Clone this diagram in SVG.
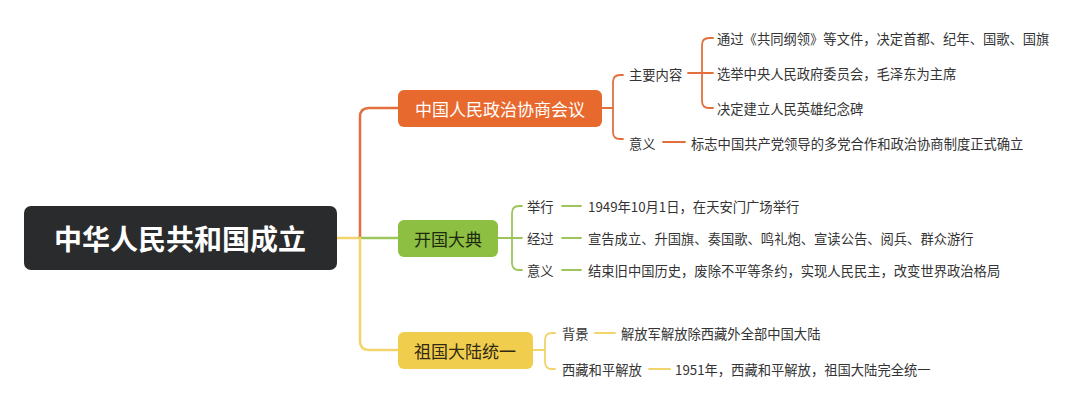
<svg xmlns="http://www.w3.org/2000/svg" width="1080" height="407" viewBox="0 0 1080 407">
<style>
text{font-family:"Noto Sans CJK SC","Noto Sans",sans-serif;dominant-baseline:central}
.leaf{font-size:13.3px;fill:#333}
.mid{font-size:17px}
.c{fill:none;stroke-linecap:round;stroke-linejoin:round}
.o{stroke:#e3703c}
.g{stroke:#9cc55a}
.y{stroke:#f2d46c}
.t{stroke-width:2.5}
.s{stroke-width:1.8}
</style>
<rect width="1080" height="407" fill="#ffffff"/>
<g id="connectors">
<path class="c y t" d="M337 238 H360"/>
<path class="c o t" d="M360 238 V117 Q360 108 369 108 H398"/>
<path class="c g t" d="M360 238 H398"/>
<path class="c y t" d="M360 238 V341 Q360 350 369 350 H398"/>
<path class="c o s" d="M602 108 H613 M623 75 H620 Q613 75 613 82 V132 Q613 139 620 139 H623"/>
<path class="c o s" d="M688 73 H702 M713 38 H709 Q702 38 702 45 V101 Q702 108 709 108 H713 M702 73 H713"/>
<path class="c o s" d="M663 142 H685"/>
<path class="c g s" d="M498 238 H512 M522 206 H519 Q512 206 512 213 V263 Q512 270 519 270 H522 M512 238 H522"/>
<path class="c g s" d="M562 206 H581 M562 238 H581 M562 270 H581"/>
<path class="c y s" d="M533 350 H545 M555 333 H552 Q545 333 545 340 V362 Q545 369 552 369 H555"/>
<path class="c y s" d="M595 333 H615 M649 369 H670"/>
</g>
<g id="root">
<rect x="24" y="206" width="313" height="64" rx="7" fill="#2a2b2d"/>
<text x="180" y="238" font-size="28" font-weight="bold" fill="#ffffff" text-anchor="middle">中华人民共和国成立</text>
</g>
<g id="n1">
<rect x="398" y="90" width="204" height="37" rx="6" fill="#e8692e"/>
<text class="mid" x="500" y="108" fill="#ffffff" text-anchor="middle">中国人民政治协商会议</text>
</g>
<g id="n2">
<rect x="398" y="220" width="100" height="37" rx="6" fill="#8cbf42"/>
<text class="mid" x="448" y="238" fill="#1e2a10" text-anchor="middle">开国大典</text>
</g>
<g id="n3">
<rect x="398" y="332" width="135" height="37" rx="6" fill="#f1cd4e"/>
<text class="mid" x="465" y="350" fill="#2e2a14" text-anchor="middle">祖国大陆统一</text>
</g>
<g id="n1a"><text class="leaf" x="629" y="74">主要内容</text></g>
<g id="n1a1"><text class="leaf" x="717" y="38">通过《共同纲领》等文件，决定首都、纪年、国歌、国旗</text></g>
<g id="n1a2"><text class="leaf" x="717" y="73">选举中央人民政府委员会，毛泽东为主席</text></g>
<g id="n1a3"><text class="leaf" x="717" y="108">决定建立人民英雄纪念碑</text></g>
<g id="n1b"><text class="leaf" x="629" y="143">意义</text></g>
<g id="n1b1"><text class="leaf" x="691" y="143">标志中国共产党领导的多党合作和政治协商制度正式确立</text></g>
<g id="n2a"><text class="leaf" x="527" y="206">举行</text></g>
<g id="n2a1"><text class="leaf" x="588" y="206">1949年10月1日，在天安门广场举行</text></g>
<g id="n2b"><text class="leaf" x="527" y="238">经过</text></g>
<g id="n2b1"><text class="leaf" x="588" y="238">宣告成立、升国旗、奏国歌、鸣礼炮、宣读公告、阅兵、群众游行</text></g>
<g id="n2c"><text class="leaf" x="527" y="270">意义</text></g>
<g id="n2c1"><text class="leaf" x="588" y="270">结束旧中国历史，废除不平等条约，实现人民民主，改变世界政治格局</text></g>
<g id="n3a"><text class="leaf" x="562" y="333">背景</text></g>
<g id="n3a1"><text class="leaf" x="621" y="333">解放军解放除西藏外全部中国大陆</text></g>
<g id="n3b"><text class="leaf" x="562" y="369">西藏和平解放</text></g>
<g id="n3b1"><text class="leaf" x="675" y="369">1951年，西藏和平解放，祖国大陆完全统一</text></g>
</svg>
